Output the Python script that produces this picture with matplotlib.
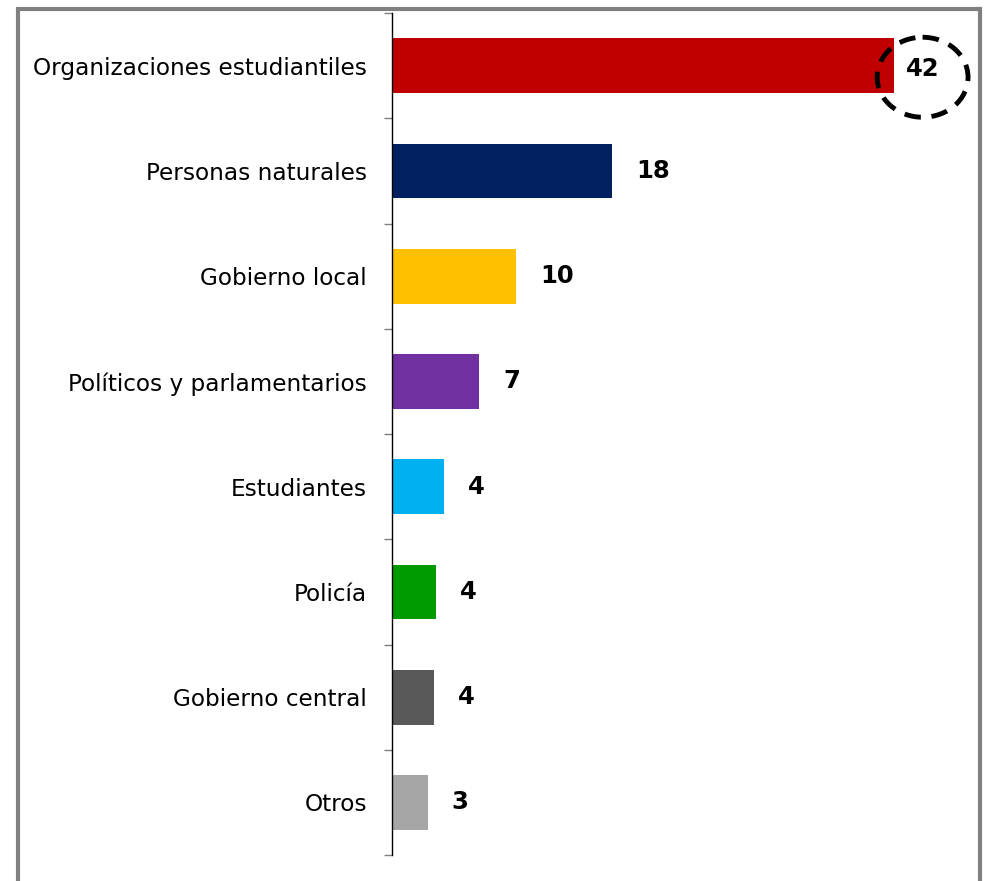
import matplotlib
matplotlib.use('Agg')
import matplotlib.pyplot as plt
from matplotlib.patches import Rectangle, Ellipse

# data (labels are the rounded values)
categories = ['Organizaciones estudiantiles', 'Personas naturales', 'Gobierno local',
              'Políticos y parlamentarios', 'Estudiantes', 'Policía',
              'Gobierno central', 'Otros']
values = [42, 18.4, 10.4, 7.3, 4.35, 3.7, 3.5, 3.0]
labels = ['42', '18', '10', '7', '4', '4', '4', '3']
colors = ['#C00000', '#002060', '#FFC000', '#7030A0', '#00B0F0', '#009900',
          '#595959', '#A6A6A6']

plt.rcParams['font.family'] = ['DejaVu Sans']

fig = plt.figure(figsize=(9.9, 8.81), dpi=100)
ax = fig.add_axes([0.396, 0.0295, 0.580, 0.9557])

pos = list(range(len(categories)))
ax.barh(pos, values, height=0.52, color=colors)
ax.set_ylim(len(categories) - 0.5, -0.5)
ax.set_xlim(0, 48)

# value labels
for i, (v, lab) in enumerate(zip(values, labels)):
    if i == 0:
        continue
    ax.annotate(lab, (v, i), xytext=(17, 0), textcoords='offset points',
                ha='left', va='center', fontsize=17.5, fontweight='bold')

# highlighted first value inside a dashed circle
cx = values[0] + 2.35
ax.text(cx, 0.03, labels[0], ha='center', va='center', fontsize=17.5,
        fontweight='bold')
ax.add_patch(Ellipse((cx, 0.11), 7.6, 0.76, fill=False, edgecolor='black',
                     linewidth=3.5, linestyle=(0, (3.4, 2.2)), clip_on=False))

# axis styling
for s in ['top', 'right', 'bottom']:
    ax.spines[s].set_visible(False)
ax.spines['left'].set_color('black')
ax.spines['left'].set_linewidth(1)
ax.set_xticks([])
ax.set_yticks(pos)
ax.set_yticklabels(categories, fontsize=16.7)
ax.tick_params(axis='y', which='major', length=0, pad=18)
ax.set_yticks([p + 0.5 for p in pos] + [-0.5], minor=True)
ax.tick_params(axis='y', which='minor', length=6, width=1, color='#808080',
               direction='out')

# gray frame around the chart (bottom edge falls outside the image)
fig.patches.append(Rectangle((0.018, -0.05), 0.972, 1.04, transform=fig.transFigure,
                             fill=False, edgecolor='#808080', linewidth=3))

fig.savefig('out.png', dpi=100)
